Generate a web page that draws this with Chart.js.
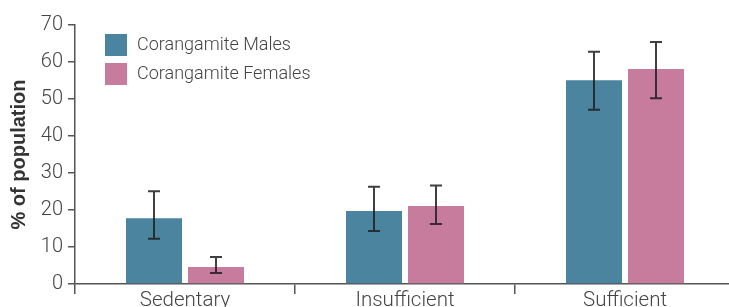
<!DOCTYPE html>
<html>
<head>
<meta charset="utf-8">
<script src="https://cdn.jsdelivr.net/npm/chart.js@4/dist/chart.umd.min.js"></script>
<style>
html,body{margin:0;padding:0;overflow:hidden;background:#fff;}
#wrap{width:735px;height:307px;}
</style>
</head>
<body>
<div id="wrap"><canvas id="c" width="735" height="307"></canvas></div>
<script>
const categories = ["Sedentary", "Insufficient", "Sufficient"];
const seriesNames = ["Corangamite Males", "Corangamite Females"];
const maleValues = [17.8, 19.7, 55.1];
const maleLow = [12.2, 14.3, 47.1];
const maleHigh = [25.1, 26.3, 62.8];
const femaleValues = [4.6, 21.1, 58.1];
const femaleLow = [3.0, 16.2, 50.2];
const femaleHigh = [7.3, 26.6, 65.4];
const yTicks = [0, 10, 20, 30, 40, 50, 60, 70];

const colors = ["#4b849f", "#c77c9e"];
const errLow = [maleLow, femaleLow];
const errHigh = [maleHigh, femaleHigh];

const errorBars = {
  id: 'errorBars',
  afterDatasetsDraw(chart) {
    const ctx = chart.ctx;
    const y = chart.scales.y;
    ctx.save();
    ctx.strokeStyle = 'rgba(30,30,30,0.85)';
    ctx.lineWidth = 2;
    chart.data.datasets.forEach((ds, di) => {
      const meta = chart.getDatasetMeta(di);
      meta.data.forEach((el, i) => {
        const x = el.x;
        const yl = y.getPixelForValue(errLow[di][i]);
        const yh = y.getPixelForValue(errHigh[di][i]);
        ctx.beginPath();
        ctx.moveTo(x, yl); ctx.lineTo(x, yh);
        ctx.moveTo(x - 6, yl); ctx.lineTo(x + 6, yl);
        ctx.moveTo(x - 6, yh); ctx.lineTo(x + 6, yh);
        ctx.stroke();
      });
    });
    ctx.restore();
  }
};

const customLegend = {
  id: 'customLegend',
  afterDraw(chart) {
    const ctx = chart.ctx;
    const a = chart.chartArea;
    ctx.save();
    ctx.font = '300 18px Roboto';
    ctx.textBaseline = 'middle';
    ctx.textAlign = 'left';
    chart.data.datasets.forEach((ds, i) => {
      const x0 = a.left + 30;
      const y0 = a.top + 9 + i * 29;
      ctx.fillStyle = ds.backgroundColor;
      ctx.fillRect(x0, y0, 22, 22);
      ctx.fillStyle = '#444';
      ctx.fillText(ds.label, x0 + 32, y0 + 11);
    });
    ctx.restore();
  }
};

new Chart(document.getElementById('c'), {
  type: 'bar',
  data: {
    labels: categories,
    datasets: [
      { label: seriesNames[0], data: maleValues, backgroundColor: colors[0] },
      { label: seriesNames[1], data: femaleValues, backgroundColor: colors[1] }
    ]
  },
  options: {
    responsive: false,
    animation: false,
    events: [],
    layout: { padding: { top: 25, right: 0, left: 0, bottom: 0 } },
    datasets: { bar: { categoryPercentage: 0.5636, barPercentage: 0.903 } },
    plugins: { legend: { display: false }, tooltip: { enabled: false } },
    scales: {
      x: {
        offset: true,
        grid: { display: true, drawOnChartArea: false, drawTicks: true, tickLength: 10, color: '#555', lineWidth: 1.5, offset: true },
        border: { display: true, color: '#555', width: 1.5 },
        ticks: { color: '#444', font: { family: 'Roboto', weight: 300, size: 20.5 }, padding: -5, maxRotation: 0 },
        afterFit(s) { s.height = 23; }
      },
      y: {
        min: 0, max: 70,
        afterBuildTicks(s) { s.ticks = yTicks.map(v => ({ value: v })); },
        grid: { display: true, drawOnChartArea: false, drawTicks: true, tickLength: 7, color: '#555', lineWidth: 1.5 },
        border: { display: true, color: '#555', width: 1.5 },
        ticks: { color: '#444', font: { family: 'Roboto', weight: 300, size: 20 }, padding: 5 },
        title: { display: true, text: '% of population', color: '#333', font: { family: 'Liberation Sans', weight: 'bold', size: 20 }, padding: { top: 7, bottom: 0 } },
        afterFit(s) { s.width = 75; }
      }
    }
  },
  plugins: [errorBars, customLegend]
});
</script>
</body>
</html>
